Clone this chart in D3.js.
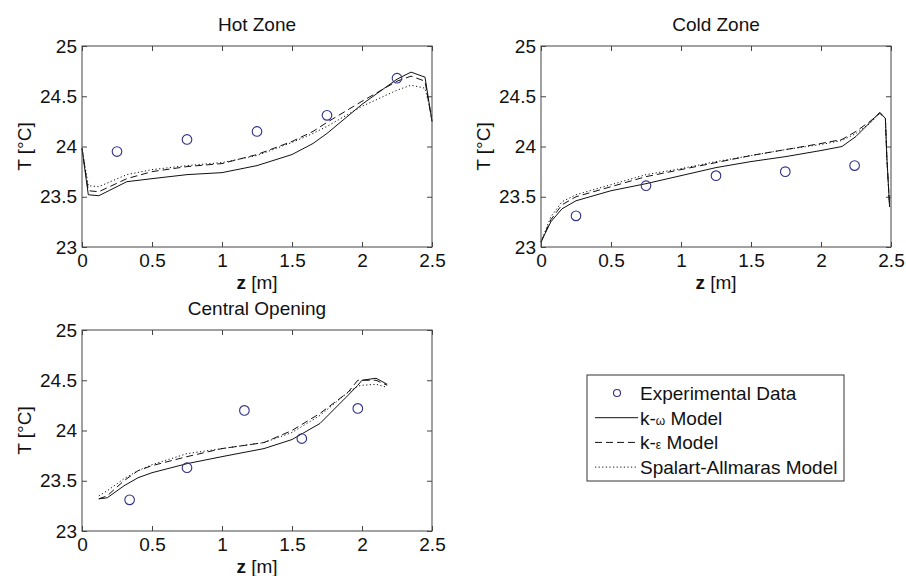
<!DOCTYPE html>
<html>
<meta charset="utf-8">
<style>
body { margin: 0; background: #fff; }
svg text { font-family: "Liberation Sans", Arial, sans-serif; fill: #111; }
</style>
<script src="https://d3js.org/d3.v7.min.js"></script>
<body>
<div id="chart"></div>
<script>
// axis ticks shared by the three panels
var zTicks = [0, 0.5, 1, 1.5, 2, 2.5];
var tTicks = [23, 23.5, 24, 24.5, 25];

// Hot Zone
var hotExpZ = [0.25, 0.75, 1.25, 1.75, 2.25];
var hotExpT = [23.95, 24.07, 24.15, 24.31, 24.68];
var hotZ = [0, 0.045, 0.12, 0.32, 0.5, 0.75, 1.0, 1.25, 1.5, 1.65, 1.75, 2.0, 2.25, 2.35, 2.45, 2.5];
var hotKOmega = [23.98, 23.52, 23.51, 23.65, 23.68, 23.72, 23.74, 23.81, 23.92, 24.03, 24.13, 24.42, 24.67, 24.74, 24.69, 24.25];
var hotKEps = [23.98, 23.56, 23.55, 23.68, 23.75, 23.8, 23.83, 23.92, 24.05, 24.15, 24.24, 24.45, 24.65, 24.7, 24.65, 24.25];
var hotSA = [23.98, 23.61, 23.6, 23.72, 23.77, 23.81, 23.84, 23.91, 24.04, 24.13, 24.2, 24.4, 24.56, 24.61, 24.58, 24.3];

// Cold Zone
var coldExpZ = [0.25, 0.75, 1.25, 1.745, 2.24];
var coldExpT = [23.31, 23.61, 23.71, 23.75, 23.81];
var coldZ = [0, 0.07, 0.15, 0.25, 0.5, 0.75, 1.0, 1.25, 1.5, 1.75, 2.0, 2.15, 2.25, 2.35, 2.42, 2.46, 2.47, 2.49];
var coldKOmega = [23.05, 23.25, 23.38, 23.46, 23.56, 23.63, 23.71, 23.79, 23.85, 23.9, 23.96, 24.0, 24.1, 24.24, 24.34, 24.28, 23.9, 23.4];
var coldKEps = [23.05, 23.27, 23.42, 23.5, 23.6, 23.7, 23.77, 23.84, 23.91, 23.97, 24.03, 24.07, 24.15, 24.25, 24.33, 24.28, 23.9, 23.4];
var coldSA = [23.05, 23.3, 23.45, 23.52, 23.62, 23.72, 23.78, 23.85, 23.91, 23.97, 24.02, 24.06, 24.13, 24.23, 24.33, 24.28, 23.9, 23.4];

// Central Opening
var cenExpZ = [0.34, 0.75, 1.16, 1.57, 1.97];
var cenExpT = [23.31, 23.63, 24.2, 23.92, 24.22];
var cenZ = [0.12, 0.18, 0.3, 0.4, 0.5, 0.75, 1.0, 1.3, 1.5, 1.7, 1.9, 1.97, 2.0, 2.1, 2.18];
var cenKOmega = [23.32, 23.33, 23.45, 23.53, 23.58, 23.67, 23.74, 23.82, 23.91, 24.07, 24.35, 24.45, 24.5, 24.52, 24.46];
var cenKEps = [23.32, 23.35, 23.5, 23.6, 23.65, 23.74, 23.82, 23.88, 24.0, 24.17, 24.38, 24.5, 24.5, 24.5, 24.45];
var cenSA = [23.35, 23.4, 23.52, 23.6, 23.66, 23.77, 23.82, 23.88, 23.98, 24.15, 24.38, 24.44, 24.45, 24.46, 24.43];

var width = 906, height = 576;
var markerColor = "#30308a";
var fontSize = 19;

var svg = d3.select("#chart").append("svg")
    .attr("width", width)
    .attr("height", height);

// line styles: solid, dashed, dotted
var styles = [
    { dash: null },
    { dash: "7,4" },
    { dash: "1.2,2.4" }
];

var panels = [
    { title: "Hot Zone", x: 82, y: 46, w: 350, h: 201,
      expZ: hotExpZ, expT: hotExpT, z: hotZ, series: [hotKOmega, hotKEps, hotSA] },
    { title: "Cold Zone", x: 541, y: 46, w: 350, h: 201,
      expZ: coldExpZ, expT: coldExpT, z: coldZ, series: [coldKOmega, coldKEps, coldSA] },
    { title: "Central Opening", x: 82, y: 330, w: 350, h: 201,
      expZ: cenExpZ, expT: cenExpT, z: cenZ, series: [cenKOmega, cenKEps, cenSA] }
];

panels.forEach(function(p) {
    var g = svg.append("g").attr("transform", "translate(" + p.x + "," + p.y + ")");

    var x = d3.scaleLinear().domain([0, 2.5]).range([0, p.w]);
    var y = d3.scaleLinear().domain([23, 25]).range([p.h, 0]);
    var fmt = d3.format("");

    g.append("rect")
        .attr("width", p.w).attr("height", p.h)
        .attr("fill", "#fff");

    // ticks pointing inward on all four sides
    var ax = [
        g.append("g").attr("transform", "translate(0," + p.h + ")")
            .call(d3.axisBottom(x).tickValues(zTicks).tickFormat(fmt).tickSizeInner(-5).tickSizeOuter(0).tickPadding(7)),
        g.append("g")
            .call(d3.axisTop(x).tickValues(zTicks).tickFormat("").tickSizeInner(-5).tickSizeOuter(0)),
        g.append("g")
            .call(d3.axisLeft(y).tickValues(tTicks).tickFormat(fmt).tickSizeInner(-5).tickSizeOuter(0).tickPadding(5)),
        g.append("g").attr("transform", "translate(" + p.w + ",0)")
            .call(d3.axisRight(y).tickValues(tTicks).tickFormat("").tickSizeInner(-5).tickSizeOuter(0))
    ];
    ax.forEach(function(a) {
        a.select(".domain").remove();
        a.selectAll("line").attr("stroke", "#444");
        a.selectAll("text").attr("font-size", fontSize).attr("fill", "#111")
            .style("font-family", "'Liberation Sans', Arial, sans-serif");
    });

    var line = d3.line()
        .x(function(d) { return x(d[0]); })
        .y(function(d) { return y(d[1]); });

    p.series.forEach(function(vals, i) {
        g.append("path")
            .datum(p.z.map(function(z, j) { return [z, vals[j]]; }))
            .attr("fill", "none")
            .attr("stroke", "#111")
            .attr("stroke-width", 1)
            .attr("stroke-dasharray", styles[i].dash)
            .attr("d", line);
    });

    g.selectAll("circle.exp")
        .data(p.expZ.map(function(z, j) { return [z, p.expT[j]]; }))
        .enter().append("circle")
        .attr("class", "exp")
        .attr("cx", function(d) { return x(d[0]); })
        .attr("cy", function(d) { return y(d[1]); })
        .attr("r", 4.8)
        .attr("fill", "none")
        .attr("stroke", markerColor)
        .attr("stroke-width", 1.1);

    g.append("rect")
        .attr("width", p.w).attr("height", p.h)
        .attr("fill", "none")
        .attr("stroke", "#444")
        .attr("stroke-width", 1);

    g.append("text")
        .attr("x", p.w / 2).attr("y", -15)
        .attr("text-anchor", "middle")
        .attr("font-size", fontSize)
        .text(p.title);

    var xl = g.append("text")
        .attr("x", p.w / 2).attr("y", p.h + 42)
        .attr("text-anchor", "middle")
        .attr("font-size", fontSize);
    xl.append("tspan").attr("font-weight", "bold").text("z");
    xl.append("tspan").text(" [m]");

    g.append("text")
        .attr("transform", "translate(-51," + (p.h / 2) + ") rotate(-90)")
        .attr("text-anchor", "middle")
        .attr("font-size", fontSize)
        .text("T [°C]");
});

// legend
var legendItems = [
    { type: "marker", label: ["Experimental Data"] },
    { type: "line", dash: styles[0].dash, label: ["k-", "ω", " Model"] },
    { type: "line", dash: styles[1].dash, label: ["k-", "ε", " Model"] },
    { type: "line", dash: styles[2].dash, label: ["Spalart-Allmaras Model"] }
];

var lg = svg.append("g").attr("transform", "translate(587,375)");
lg.append("rect")
    .attr("width", 257).attr("height", 106)
    .attr("fill", "#fff")
    .attr("stroke", "#333")
    .attr("stroke-width", 1);

legendItems.forEach(function(d, i) {
    var cy = 18 + i * 24.7;
    if (d.type === "marker") {
        lg.append("circle")
            .attr("cx", 30).attr("cy", cy).attr("r", 3.5)
            .attr("fill", "none").attr("stroke", markerColor).attr("stroke-width", 1.1);
    } else {
        lg.append("line")
            .attr("x1", 8).attr("x2", 51).attr("y1", cy).attr("y2", cy)
            .attr("stroke", "#111").attr("stroke-width", 1)
            .attr("stroke-dasharray", d.dash);
    }
    var t = lg.append("text")
        .attr("x", 53).attr("y", cy + 7)
        .attr("font-size", fontSize);
    d.label.forEach(function(s, k) {
        var sp = t.append("tspan").text(s);
        if (d.label.length === 3 && k === 1) sp.attr("font-size", 12);
    });
});
</script>
</body>
</html>
